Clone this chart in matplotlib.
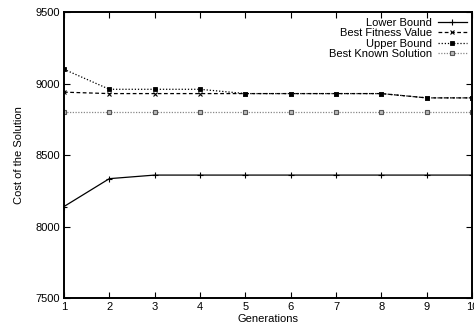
import matplotlib
matplotlib.use('Agg')
import matplotlib.pyplot as plt

generations = [1, 2, 3, 4, 5, 6, 7, 8, 9, 10]
lower_bound = [8140, 8335, 8360, 8360, 8360, 8360, 8360, 8360, 8360, 8360]
best_fitness = [8940, 8930, 8930, 8930, 8930, 8930, 8930, 8930, 8900, 8900]
upper_bound = [9100, 8960, 8960, 8960, 8930, 8930, 8930, 8930, 8900, 8900]
best_known = [8800] * 10

plt.rcParams['font.family'] = ['Liberation Sans', 'DejaVu Sans']

fig = plt.figure(figsize=(4.74, 3.36), dpi=100)
ax = fig.add_axes([0.135, 0.113, 0.861, 0.851])

ax.plot(generations, lower_bound, color='black', lw=0.9, ls='-',
        marker='+', ms=4, mew=0.8, label='Lower Bound')
ax.plot(generations, best_fitness, color='black', lw=0.9, ls=(0, (3, 2)),
        marker='x', ms=3, mew=0.8, label='Best Fitness Value')
ax.plot(generations, upper_bound, color='black', lw=0.9, ls=(0, (1, 1.5)),
        marker='s', ms=2.5, mew=0.6, label='Upper Bound')
ax.plot(generations, best_known, color='#888888', lw=0.9, ls=(0, (1, 1.2)),
        marker='s', ms=3, mfc='#bbbbbb', mec='#555555', mew=0.8,
        label='Best Known Solution')

ax.set_xlim(1, 10)
ax.set_ylim(7500, 9500)
ax.set_xticks(generations)
ax.set_yticks([7500, 8000, 8500, 9000, 9500])
ax.tick_params(direction='in', top=True, right=True, labelsize=8,
               length=4, width=0.8, pad=3)
for s in ax.spines.values():
    s.set_linewidth(1.4)

ax.set_xlabel('Generations', fontsize=8, labelpad=1)
ax.set_ylabel('Cost of the Solution', fontsize=8, labelpad=8)

ax.legend(loc='upper right', frameon=False, markerfirst=False, fontsize=8,
          handlelength=2.6, labelspacing=0.05, borderaxespad=0.1,
          handletextpad=0.5)

fig.savefig('out.png', dpi=100)
